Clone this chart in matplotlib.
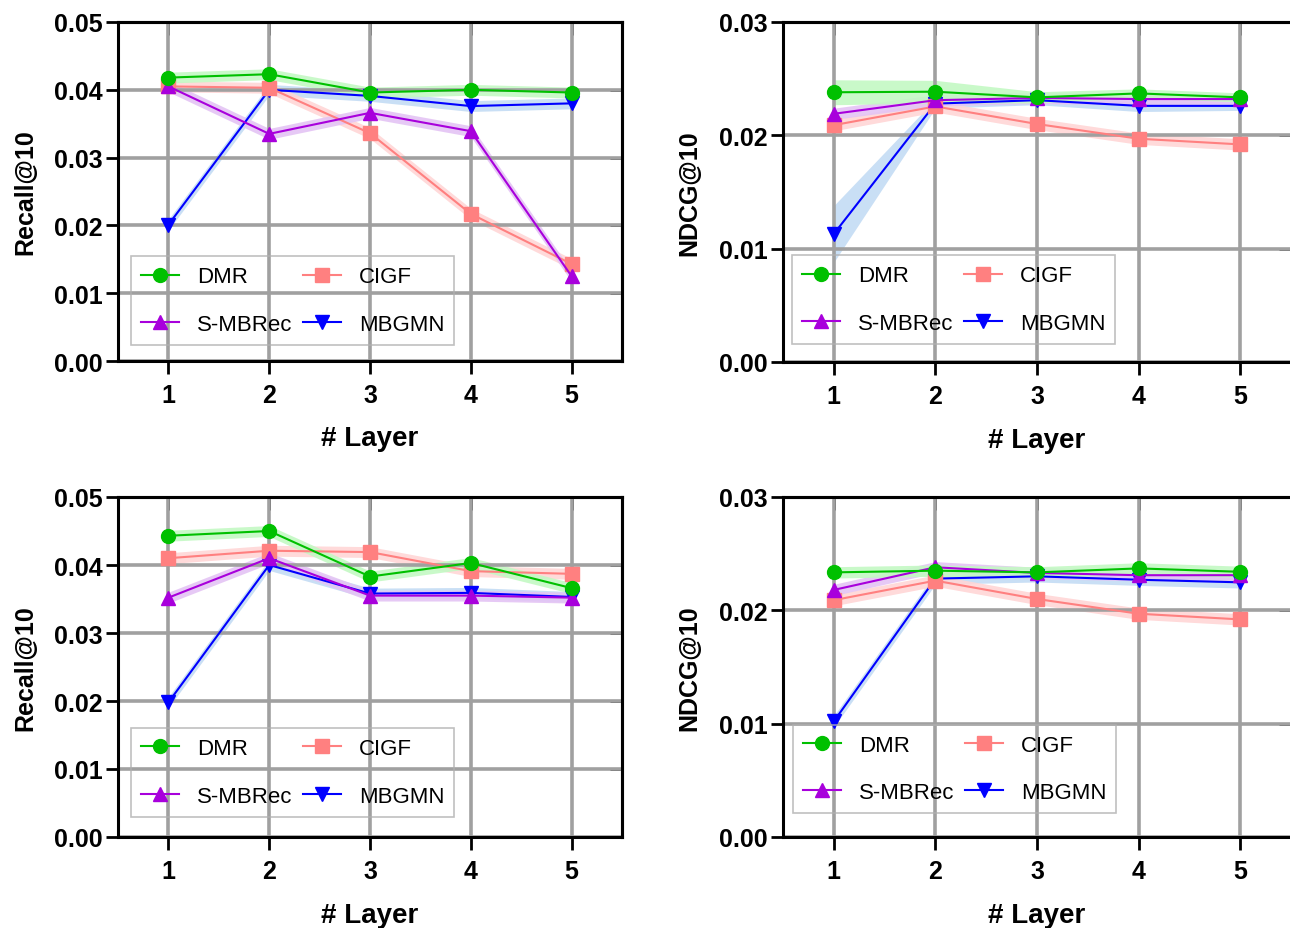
import matplotlib
matplotlib.use("Agg")
import matplotlib.pyplot as plt
from matplotlib.ticker import FormatStrFormatter

plt.rcParams['font.family'] = ['Liberation Sans', 'DejaVu Sans']

layers = [1, 2, 3, 4, 5]
methods = ["DMR", "S-MBRec", "CIGF", "MBGMN"]
recall_ticks = [0.00, 0.01, 0.02, 0.03, 0.04, 0.05]
ndcg_ticks = [0.00, 0.01, 0.02, 0.03]

# top-left, Recall@10
ra_dmr = [0.0418, 0.0423, 0.0396, 0.0400, 0.0396]
ra_smb = [0.0405, 0.0335, 0.0366, 0.0339, 0.0125]
ra_cigf = [0.0405, 0.0403, 0.0336, 0.0217, 0.0143]
ra_mbg = [0.0201, 0.0400, 0.0391, 0.0376, 0.0380]
ra_band = [0.0008, 0.0008, 0.0008, 0.0008, 0.0008]

# top-right, NDCG@10
na_dmr = [0.0238, 0.02385, 0.02335, 0.0237, 0.02335]
na_smb = [0.0219, 0.0231, 0.0233, 0.0232, 0.0232]
na_cigf = [0.0209, 0.02255, 0.0210, 0.0197, 0.0192]
na_mbg = [0.0113, 0.0228, 0.0231, 0.0226, 0.0226]
na_band_dmr = [0.0011, 0.0010, 0.0005, 0.0004, 0.0004]
na_band_mbg = [0.0025, 0.0004, 0.0004, 0.0005, 0.0004]
na_band = [0.0005, 0.0005, 0.0005, 0.0005, 0.0005]

# bottom-left, Recall@10
rb_dmr = [0.0443, 0.0450, 0.0383, 0.0403, 0.0366]
rb_smb = [0.0352, 0.0410, 0.0355, 0.0355, 0.0352]
rb_cigf = [0.0410, 0.0421, 0.0419, 0.0391, 0.0387]
rb_mbg = [0.0198, 0.0400, 0.0358, 0.0359, 0.0353]
rb_band = [0.0008, 0.0008, 0.0008, 0.0008, 0.0008]

# bottom-right, NDCG@10
nb_dmr = [0.02335, 0.0235, 0.02335, 0.0237, 0.0234]
nb_smb = [0.0218, 0.0238, 0.0233, 0.0231, 0.0231]
nb_cigf = [0.0209, 0.02262, 0.0210, 0.0197, 0.0192]
nb_mbg = [0.0102, 0.0228, 0.0230, 0.0227, 0.02247]
nb_band = [0.0005, 0.0005, 0.0005, 0.0005, 0.0005]

style = {
    "DMR": ("#00c000", "#c4f9c4", "o"),
    "S-MBRec": ("#a800dc", "#e4c4f4", "^"),
    "CIGF": ("#ff8080", "#ffd6d6", "s"),
    "MBGMN": ("#0000ff", "#c4dcf4", "v"),
}
draw_order = ["MBGMN", "CIGF", "S-MBRec", "DMR"]


def panel(rect, series, bands, ticks, ylabel, leg_anchor):
    ax = fig.add_axes(rect)
    handles = {}
    for m in draw_order:
        line_c, band_c, mk = style[m]
        y = series[m]
        b = bands[m]
        lo = [v - e for v, e in zip(y, b)]
        hi = [v + e for v, e in zip(y, b)]
        ax.fill_between(layers, lo, hi, color=band_c, alpha=0.9, lw=0)
        h, = ax.plot(layers, y, color=line_c, lw=1.5, marker=mk, ms=10,
                     label=m)
        handles[m] = h

    ax.set_xlim(0.5, 5.5)
    ax.set_ylim(ticks[0], ticks[-1])
    ax.set_xticks(layers)
    ax.set_yticks(ticks)
    ax.yaxis.set_major_formatter(FormatStrFormatter('%.2f'))
    ax.grid(True, color="#a0a0a0", lw=2.6)
    for s in ax.spines.values():
        s.set_linewidth(2.2)
    ax.tick_params(direction='out', length=9, width=2, labelsize=18,
                   pad=7)
    ax.tick_params(axis='y', pad=2)
    for t in ax.get_xticklabels() + ax.get_yticklabels():
        t.set_fontweight('bold')

    top = ax.secondary_xaxis('top')
    top.set_xticks(layers)
    top.xaxis.set_ticklabels([])
    top.tick_params(direction='in', length=9, width=2)
    top.spines['top'].set_linewidth(2.2)
    right = ax.secondary_yaxis('right')
    right.set_yticks(ticks)
    right.yaxis.set_ticklabels([])
    right.tick_params(direction='in', length=9, width=2)
    right.spines['right'].set_linewidth(2.2)

    ax.set_xlabel("# Layer", fontsize=20, fontweight='bold')
    ax.xaxis.set_label_coords(0.5, -0.19)
    ax.set_ylabel(ylabel, fontsize=18, fontweight='bold')
    ax.yaxis.set_label_coords(-0.16, 0.5)

    leg = ax.legend([handles[m] for m in methods], methods, ncol=2,
                    loc='lower left', bbox_to_anchor=leg_anchor,
                    borderaxespad=0, fontsize=16, fancybox=False,
                    handlelength=1.7, handletextpad=0.8, columnspacing=0.5,
                    labelspacing=1.2, borderpad=0.45)
    leg.get_frame().set_facecolor('none')
    leg.get_frame().set_edgecolor('#b0b0b0')
    leg.get_frame().set_linewidth(1.2)
    return ax


fig = plt.figure(figsize=(12.9, 9.29), dpi=100)
W, H = 1290.0, 929.0

panel([118 / W, (H - 362) / H, 504 / W, 339 / H],
      {"DMR": ra_dmr, "S-MBRec": ra_smb, "CIGF": ra_cigf, "MBGMN": ra_mbg},
      {"DMR": ra_band, "S-MBRec": ra_band, "CIGF": ra_band, "MBGMN": ra_band},
      recall_ticks, "Recall@10", (0.026, 0.047))

panel([783 / W, (H - 363) / H, 508 / W, 340 / H],
      {"DMR": na_dmr, "S-MBRec": na_smb, "CIGF": na_cigf, "MBGMN": na_mbg},
      {"DMR": na_band_dmr, "S-MBRec": na_band, "CIGF": na_band,
       "MBGMN": na_band_mbg},
      ndcg_ticks, "NDCG@10", (0.018, 0.053))

panel([118 / W, (H - 838) / H, 504 / W, 340 / H],
      {"DMR": rb_dmr, "S-MBRec": rb_smb, "CIGF": rb_cigf, "MBGMN": rb_mbg},
      {"DMR": rb_band, "S-MBRec": rb_band, "CIGF": rb_band, "MBGMN": rb_band},
      recall_ticks, "Recall@10", (0.026, 0.059))

panel([783 / W, (H - 838) / H, 508 / W, 340 / H],
      {"DMR": nb_dmr, "S-MBRec": nb_smb, "CIGF": nb_cigf, "MBGMN": nb_mbg},
      {"DMR": nb_band, "S-MBRec": nb_band, "CIGF": nb_band, "MBGMN": nb_band},
      ndcg_ticks, "NDCG@10", (0.02, 0.07))

fig.savefig("out.png", dpi=100)
